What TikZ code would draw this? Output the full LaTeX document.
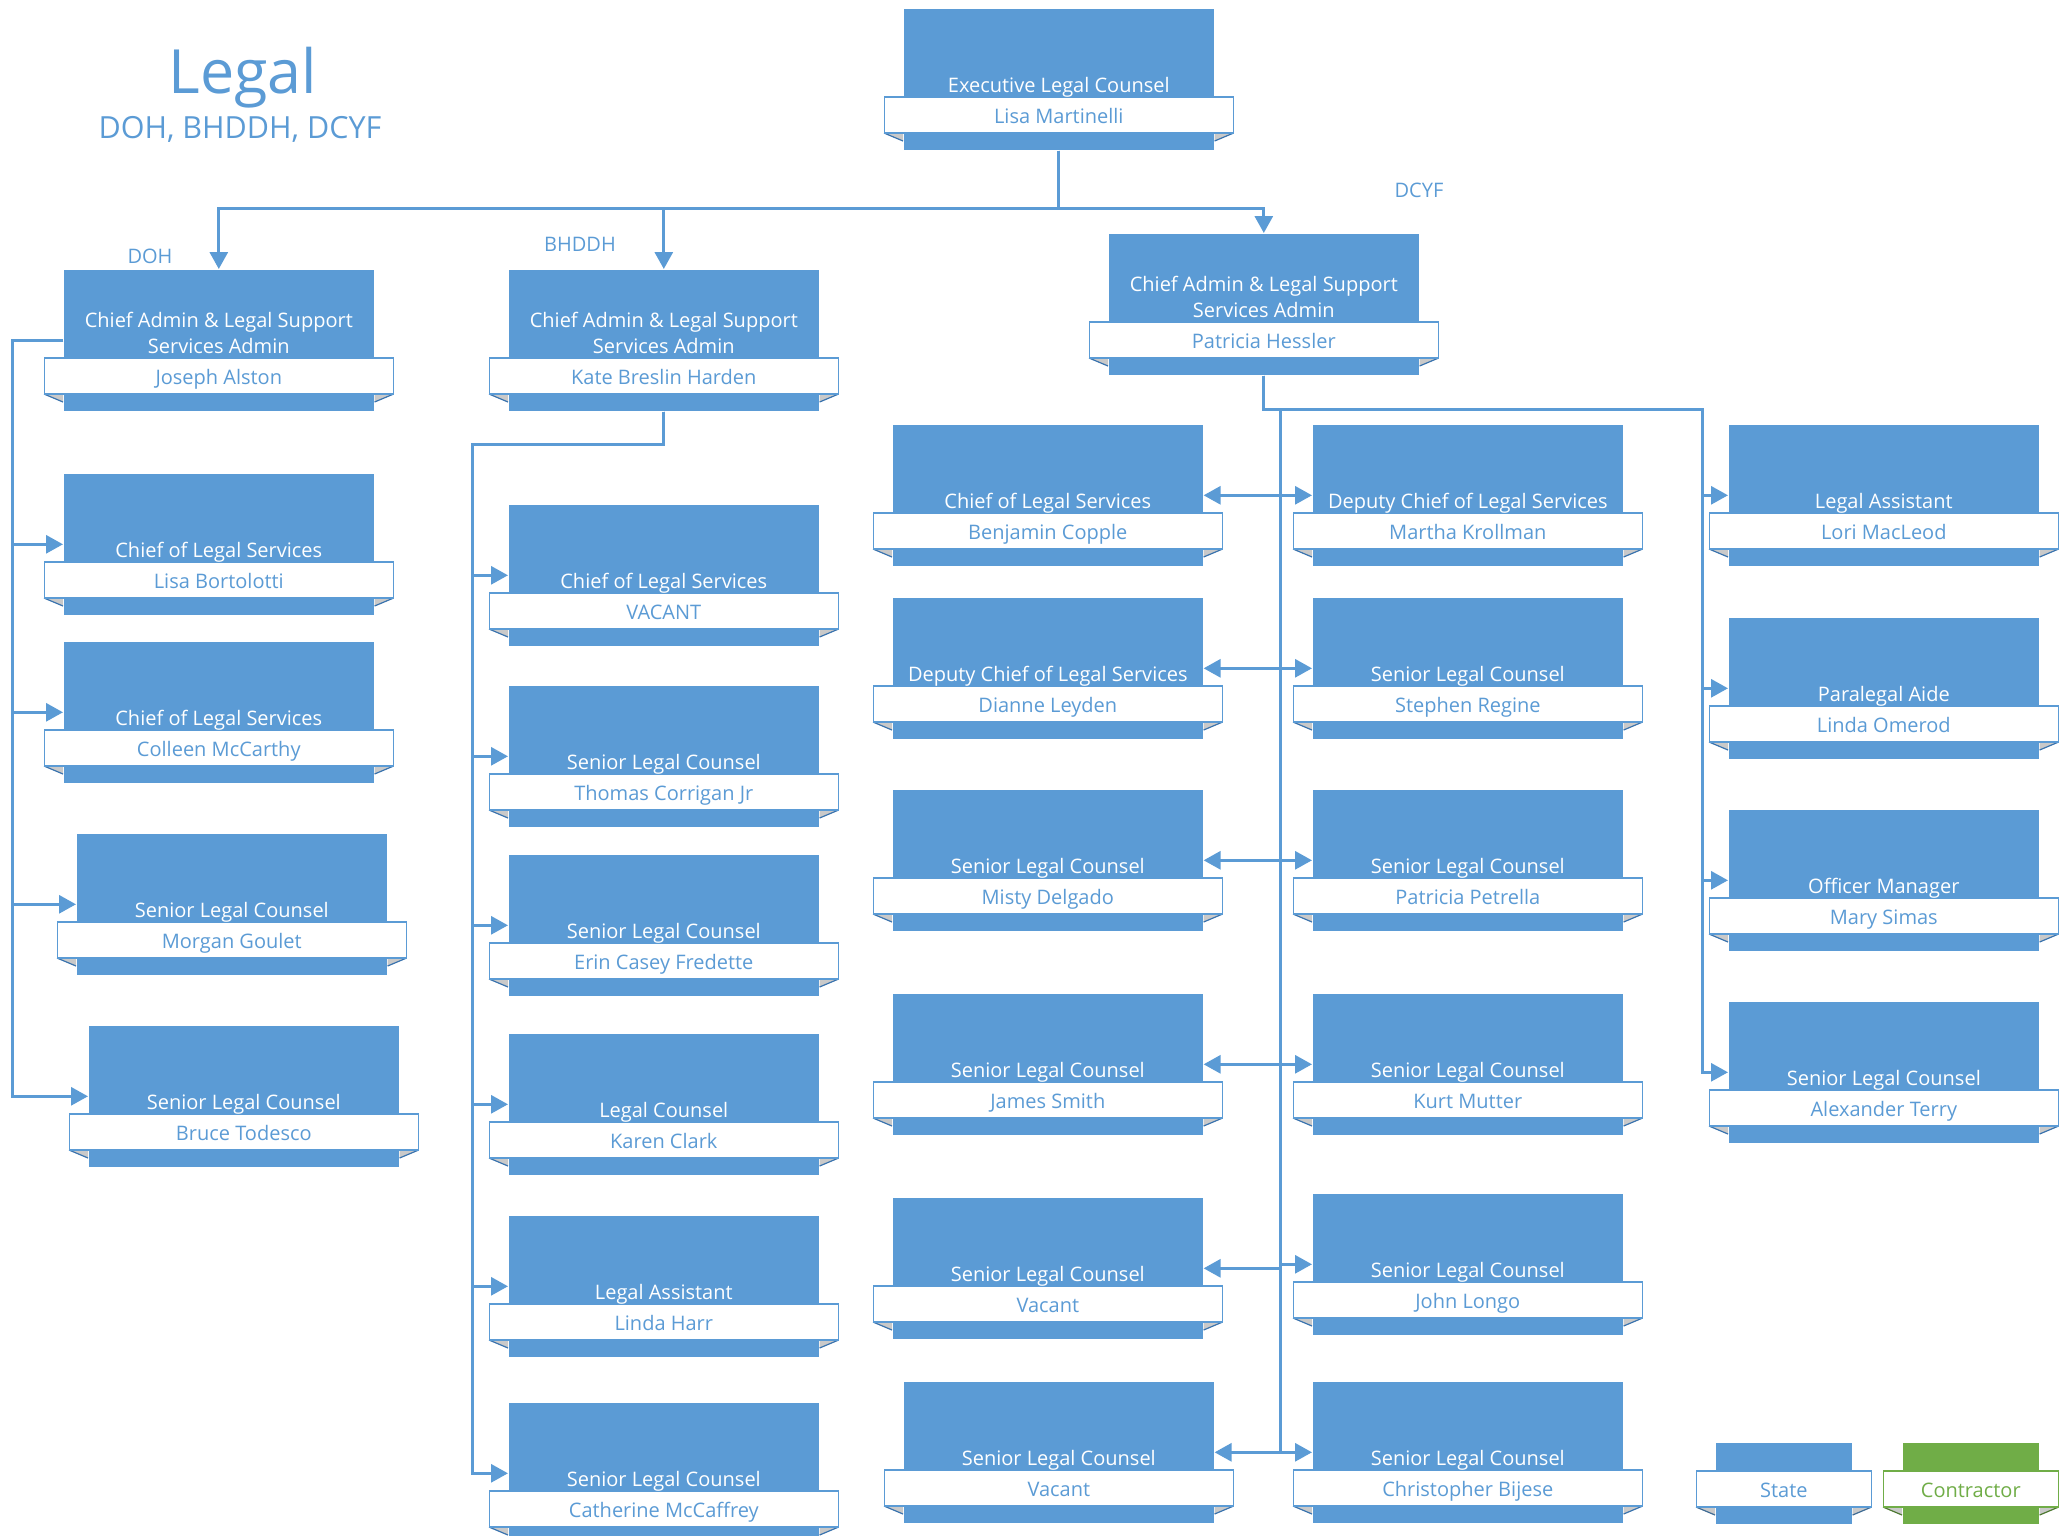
\documentclass[tikz,border=0pt]{standalone}
\usepackage{fontspec}
\setmainfont{Open Sans}
\usepackage{xcolor}
\usepackage{tikz}
\usetikzlibrary{arrows.meta,calc}

\definecolor{stateblue}{HTML}{5B9BD5}
\definecolor{contractgreen}{HTML}{70AD47}
\definecolor{foldgrey}{HTML}{C9C9C9}
\definecolor{foldedge}{HTML}{3A73AE}

\newcommand{\orgcard}[4]{%
	\node[cardbox, fill=stateblue, anchor=north west] (#1) at (#2) {};
	\fill[foldgrey] ($(#1.north west)+(-19,125)$) -- ($(#1.north west)+(0,125)$) -- ($(#1.north west)+(0,133)$) -- cycle;
	\fill[foldgrey] ($(#1.north east)+(19,125)$) -- ($(#1.north east)+(0,125)$) -- ($(#1.north east)+(0,133)$) -- cycle;
	\draw[foldedge, line width=1.2pt] ($(#1.north west)+(-19,125)$) -- ($(#1.north west)+(0,133)$);
	\draw[foldedge, line width=1.2pt] ($(#1.north east)+(19,125)$) -- ($(#1.north east)+(0,133)$);
	\node[ribbon, draw=stateblue, text=stateblue] (#1-r) at ([yshift=-107pt]#1.north) {#4};
	\node[cardtitle] (#1-t) at ([yshift=-84pt]#1.north) {#3};
}
\newcommand{\keycard}[4]{%
	\node[cardbox, fill=#3, minimum width=137pt, minimum height=82pt, anchor=north west] (#1) at (#2) {};
	\fill[foldgrey] ($(#1.north west)+(-19,65)$) -- ($(#1.north west)+(0,65)$) -- ($(#1.north west)+(0,73)$) -- cycle;
	\fill[foldgrey] ($(#1.north east)+(19,65)$) -- ($(#1.north east)+(0,65)$) -- ($(#1.north east)+(0,73)$) -- cycle;
	\draw[#3!70!black, line width=1.2pt] ($(#1.north west)+(-19,65)$) -- ($(#1.north west)+(0,73)$);
	\draw[#3!70!black, line width=1.2pt] ($(#1.north east)+(19,65)$) -- ($(#1.north east)+(0,73)$);
	\node[ribbon, minimum width=175pt, draw=#3, text=#3] (#1-r) at ([yshift=-47pt]#1.north) {#4};
}

\begin{document}
\begin{tikzpicture}[x=1pt, y=-1pt,
	cardbox/.style={draw=white, line width=0.6pt, minimum width=311pt, minimum height=142pt, inner sep=0pt},
	ribbon/.style={fill=white, line width=1.5pt, minimum width=349pt, minimum height=36pt, inner sep=0pt, text height=16pt, text depth=0pt, font=\fontsize{20}{26}\selectfont},
	cardtitle/.style={anchor=base, inner sep=0pt, text=white, align=center, font=\fontsize{20}{26}\selectfont},
	unitlabel/.style={anchor=base, inner sep=0pt, text=stateblue, font=\fontsize{20}{24}\selectfont},
	link/.style={draw=stateblue, line width=3pt, -{Triangle[length=17pt, width=18pt]}}]
	\clip (0,0) rectangle (2059,1535);

	\node[anchor=base, inner sep=0pt, text=stateblue, font=\fontsize{61}{64}\selectfont] (legal) at (243,93) {Legal};
	\node[anchor=base, inner sep=0pt, text=stateblue, font=\fontsize{30.5}{34}\selectfont] (units) at (240,138) {DOH, BHDDH, DCYF};
	\node[unitlabel] (dohlabel) at (150,263) {DOH};
	\node[unitlabel] (bhlabel) at (580,251) {BHDDH};
	\node[unitlabel] (dcyflabel) at (1419,197) {DCYF};

	\orgcard{exec}{903,8}{Executive Legal Counsel}{Lisa Martinelli}

	\orgcard{alston}{63,269}{Chief Admin \& Legal Support\\Services Admin}{Joseph Alston}
	\orgcard{bortolotti}{63,473}{Chief of Legal Services}{Lisa Bortolotti}
	\orgcard{mccarthy}{63,641}{Chief of Legal Services}{Colleen McCarthy}
	\orgcard{goulet}{76,833}{Senior Legal Counsel}{Morgan Goulet}
	\orgcard{todesco}{88,1025}{Senior Legal Counsel}{Bruce Todesco}

	\orgcard{harden}{508,269}{Chief Admin \& Legal Support\\Services Admin}{Kate Breslin Harden}
	\orgcard{bhvacant}{508,504}{Chief of Legal Services}{VACANT}
	\orgcard{corrigan}{508,685}{Senior Legal Counsel}{Thomas Corrigan Jr}
	\orgcard{fredette}{508,854}{Senior Legal Counsel}{Erin Casey Fredette}
	\orgcard{clark}{508,1033}{Legal Counsel}{Karen Clark}
	\orgcard{harr}{508,1215}{Legal Assistant}{Linda Harr}
	\orgcard{mccaffrey}{508,1402}{Senior Legal Counsel}{Catherine McCaffrey}

	\orgcard{hessler}{1108,233}{Chief Admin \& Legal Support\\Services Admin}{Patricia Hessler}
	\orgcard{copple}{892,424}{Chief of Legal Services}{Benjamin Copple}
	\orgcard{leyden}{892,597}{Deputy Chief of Legal Services}{Dianne Leyden}
	\orgcard{delgado}{892,789}{Senior Legal Counsel}{Misty Delgado}
	\orgcard{smith}{892,993}{Senior Legal Counsel}{James Smith}
	\orgcard{dcvacanta}{892,1197}{Senior Legal Counsel}{Vacant}
	\orgcard{dcvacantb}{903,1381}{Senior Legal Counsel}{Vacant}
	\orgcard{krollman}{1312,424}{Deputy Chief of Legal Services}{Martha Krollman}
	\orgcard{regine}{1312,597}{Senior Legal Counsel}{Stephen Regine}
	\orgcard{petrella}{1312,789}{Senior Legal Counsel}{Patricia Petrella}
	\orgcard{mutter}{1312,993}{Senior Legal Counsel}{Kurt Mutter}
	\orgcard{longo}{1312,1193}{Senior Legal Counsel}{John Longo}
	\orgcard{bijese}{1312,1381}{Senior Legal Counsel}{Christopher Bijese}
	\orgcard{macleod}{1728,424}{Legal Assistant}{Lori MacLeod}
	\orgcard{omerod}{1728,617}{Paralegal Aide}{Linda Omerod}
	\orgcard{simas}{1728,809}{Officer Manager}{Mary Simas}
	\orgcard{terry}{1728,1001}{Senior Legal Counsel}{Alexander Terry}

	\keycard{statekey}{1715,1442}{stateblue}{State}
	\keycard{contractkey}{1902,1442}{contractgreen}{Contractor}

	\draw[link] (exec.south) -- ++(0,58) -| (alston.north);
	\draw[link] (exec.south) -- ++(0,58) -| (harden.north);
	\draw[link] (exec.south) -- ++(0,58) -| (hessler.north);

	\coordinate (dohbus) at ([xshift=-51pt]alston.west);
	\foreach \n in {bortolotti,mccarthy,goulet,todesco}
		\draw[link] (alston.west) -- (dohbus) |- (\n.west);

	\coordinate (bhbus) at (472,444);
	\foreach \n in {bhvacant,corrigan,fredette,clark,harr,mccaffrey}
		\draw[link] (harden.south) |- (bhbus) |- (\n.west);

	\coordinate (dcbus) at (1280,409);
	\coordinate (dcright) at (1702,409);
	\foreach \n in {macleod,omerod,simas,terry}
		\draw[link] (hessler.south) |- (dcright) |- (\n.west);
	\foreach \n in {copple,leyden,delgado,smith,dcvacanta,dcvacantb}
		\draw[link] (dcbus) |- (\n.east);
	\foreach \n in {krollman,regine,petrella,mutter,longo,bijese}
		\draw[link] (dcbus) |- (\n.west);
\end{tikzpicture}
\end{document}
